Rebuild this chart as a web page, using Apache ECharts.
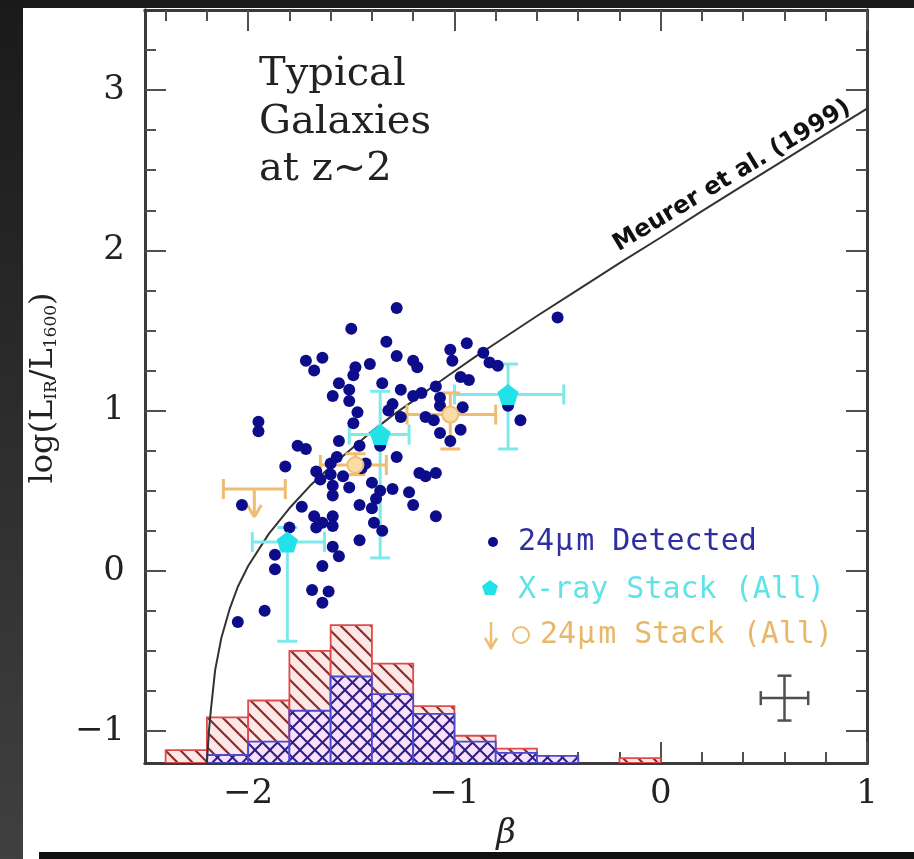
<!DOCTYPE html>
<html>
<head>
<meta charset="utf-8">
<script src="https://cdn.jsdelivr.net/npm/echarts@6/dist/echarts.min.js"></script>
<style>
  html, body { margin: 0; padding: 0; background: #1b1b1b; }
  #strip { position: absolute; left: 0; top: 0; width: 23px; height: 859px; background: linear-gradient(#1a1a1a, #404040); }
  #paper { position: absolute; left: 23px; top: 8px; width: 891px; height: 844px; background: #fff; }
  #sliver { position: absolute; left: 23px; top: 852px; width: 16px; height: 7px; background: #fff; }
  #chart { position: absolute; left: 0; top: 0; width: 914px; height: 859px; }
  #cut { position: absolute; left: 39px; top: 852px; width: 875px; height: 7px; background: #111; }
</style>
</head>
<body>
<div id="strip"></div>
<div id="paper"></div>
<div id="sliver"></div>
<div id="chart"></div>
<div id="cut"></div>
<script>
// 24um detected galaxies
const detBeta = [-1.28, -1.50, -1.33, -1.02, -0.94, -1.28, -1.72, -1.64, -1.68, -1.41,
  -1.48, -1.49, -1.20, -1.18, -1.01, -0.97, -0.93, -0.86, -0.83, -0.79,
  -0.50, -1.56, -1.35, -1.51, -1.59, -1.51, -1.26, -1.20, -1.16, -1.09,
  -1.07, -1.07, -1.30, -1.32, -1.47, -1.49, -1.26, -1.14, -1.10, -0.96,
  -0.74, -0.68, -1.07, -0.97, -1.02, -1.95, -1.95, -1.76, -1.72, -1.56,
  -1.46, -1.36, -1.28, -1.82, -1.57, -1.60, -1.45, -1.43, -1.67, -1.65,
  -1.60, -1.54, -1.59, -1.59, -1.51, -1.17, -1.14, -1.09, -1.40, -1.36,
  -1.30, -1.46, -1.40, -1.38, -1.22, -1.20, -1.09, -2.03, -1.74, -1.68,
  -1.64, -1.59, -1.67, -1.59, -1.80, -1.39, -1.35, -1.46, -1.59, -1.56,
  -1.87, -1.87, -1.64, -1.69, -1.61, -1.64, -1.92, -2.05];
const detIrx = [1.64, 1.51, 1.43, 1.38, 1.42, 1.34, 1.31, 1.33, 1.25, 1.29,
  1.27, 1.22, 1.31, 1.27, 1.31, 1.21, 1.19, 1.36, 1.30, 1.28,
  1.58, 1.17, 1.17, 1.13, 1.09, 1.06, 1.13, 1.09, 1.11, 1.15,
  1.08, 1.03, 1.04, 1.00, 0.99, 0.92, 0.96, 0.96, 0.94, 1.02,
  1.03, 0.94, 0.86, 0.88, 0.81, 0.93, 0.87, 0.78, 0.76, 0.81,
  0.78, 0.78, 0.71, 0.65, 0.71, 0.67, 0.64, 0.67, 0.62, 0.57,
  0.60, 0.59, 0.53, 0.47, 0.52, 0.61, 0.59, 0.61, 0.55, 0.50,
  0.51, 0.41, 0.39, 0.45, 0.49, 0.41, 0.34, 0.41, 0.40, 0.34,
  0.30, 0.34, 0.27, 0.28, 0.27, 0.30, 0.25, 0.19, 0.15, 0.09,
  0.10, 0.01, 0.03, -0.12, -0.13, -0.20, -0.25, -0.32];

// X-ray stacks
const xrayBeta = [-1.81, -1.36, -0.74];
const xrayIrx = [0.18, 0.85, 1.10];
const xrayBetaLo = [-1.98, -1.51, -1.00];
const xrayBetaHi = [-1.63, -1.22, -0.47];
const xrayIrxLo = [-0.44, 0.08, 0.76];
const xrayIrxHi = [0.27, 1.12, 1.29];

// 24um stacks (detections)
const stackBeta = [-1.48, -1.02];
const stackIrx = [0.66, 0.975];
const stackBetaLo = [-1.65, -1.23];
const stackBetaHi = [-1.33, -0.80];
const stackIrxLo = [0.60, 0.76];
const stackIrxHi = [0.73, 1.11];

// 24um stack upper limit
const limitBeta = [-1.97];
const limitIrx = [0.51];
const limitBetaLo = [-2.12];
const limitBetaHi = [-1.82];

// typical error bar
const typBeta = [0.60];
const typIrx = [-0.795];
const typBetaLo = [0.485];
const typBetaHi = [0.715];
const typIrxLo = [-0.935];
const typIrxHi = [-0.655];

// Meurer et al. (1999) relation
const meurerBeta = [-2.20, -2.19, -2.18, -2.16, -2.13, -2.09, -2.05, -2.00, -1.90, -1.80,
  -1.70, -1.60, -1.50, -1.40, -1.30, -1.20, -1.10, -1.00, -0.90, -0.80,
  -0.60, -0.40, -0.20, 0.00, 0.20, 0.40, 0.60, 0.80, 1.00];
const meurerIrx = [-1.20, -1.00, -0.86, -0.62, -0.42, -0.24, -0.10, 0.03, 0.23, 0.39,
  0.53, 0.65, 0.76, 0.87, 0.97, 1.06, 1.155, 1.245, 1.335, 1.42,
  1.59, 1.755, 1.92, 2.08, 2.245, 2.405, 2.565, 2.725, 2.885];

// histograms (bin edges, top of each bar in axis units)
const binLo = [-2.4, -2.2, -2.0, -1.8, -1.6, -1.4, -1.2, -1.0, -0.8, -0.6, -0.4, -0.2];
const binHi = [-2.2, -2.0, -1.8, -1.6, -1.4, -1.2, -1.0, -0.8, -0.6, -0.4, -0.2, 0.0];
const histAllTop = [-1.12, -0.915, -0.81, -0.50, -0.34, -0.58, -0.845, -1.03, -1.11, -1.155, null, -1.17];
const histDetTop = [null, -1.15, -1.067, -0.874, -0.66, -0.77, -0.894, -1.067, -1.137, -1.155, null, null];

// ticks
const xMajor = [-2, -1, 0, 1];
const xMinor = [-2.4, -2.2, -1.8, -1.6, -1.4, -1.2, -0.8, -0.6, -0.4, -0.2, 0.2, 0.4, 0.6, 0.8];
const yMajor = [-1, 0, 1, 2, 3];
const yMinor = [-0.75, -0.5, -0.25, 0.25, 0.5, 0.75, 1.25, 1.5, 1.75, 2.25, 2.5, 2.75, 3.25];

const X_MIN = -2.5, X_MAX = 1, Y_MIN = -1.2, Y_MAX = 3.5;

function hatch(bg, fg, cross, w) {
  const s = 15;
  const c = document.createElement('canvas');
  c.width = c.height = s;
  const g = c.getContext('2d');
  g.fillStyle = bg;
  g.fillRect(0, 0, s, s);
  g.strokeStyle = fg;
  g.lineWidth = w;
  const seg = (a, b, d, e) => { g.beginPath(); g.moveTo(a, b); g.lineTo(d, e); g.stroke(); };
  seg(-1, -1, s + 1, s + 1); seg(-1, s - 1, 1, s + 1); seg(s - 1, -1, s + 1, 1);
  if (cross) { seg(-1, s + 1, s + 1, -1); seg(-1, 1, 1, -1); seg(s - 1, s + 1, s + 1, s - 1); }
  return c;
}
const redFill = { image: hatch('#fde8e8', '#8c2c2c', false, 2.2), repeat: 'repeat' };
const blueFill = { image: hatch('#fae0fa', '#2c1f82', true, 2), repeat: 'repeat' };

const minus = v => String(v).replace('-', '\u2212');
const tickFont = { fontFamily: 'DejaVu Serif', fontSize: 34, color: '#222' };

function xAx(pos, vals, len, labels) {
  return {
    type: 'value', position: pos, min: X_MIN, max: X_MAX,
    axisLine: { show: true, onZero: false, lineStyle: { color: '#3a3a3a', width: 3 } },
    axisTick: { show: true, inside: true, length: len, customValues: vals, lineStyle: { color: '#505050', width: 2 } },
    axisLabel: labels ? Object.assign({ customValues: vals, margin: 14, formatter: minus }, tickFont) : { show: false },
    splitLine: { show: false }
  };
}
function yAx(pos, vals, len, labels) {
  return {
    type: 'value', position: pos, min: Y_MIN, max: Y_MAX,
    axisLine: { show: true, onZero: false, lineStyle: { color: '#3a3a3a', width: 3 } },
    axisTick: { show: true, inside: true, length: len, customValues: vals, lineStyle: { color: '#505050', width: 2 } },
    axisLabel: labels ? Object.assign({ customValues: vals, margin: 20, formatter: minus }, tickFont) : { show: false },
    splitLine: { show: false }
  };
}

function histSeries(tops, fill, stroke, z) {
  const data = [];
  binLo.forEach((lo, i) => { if (tops[i] != null) data.push([lo, binHi[i], tops[i]]); });
  return {
    type: 'custom', z: z, clip: true, data: data,
    renderItem: (params, api) => {
      const p0 = api.coord([api.value(0), api.value(2)]);
      const p1 = api.coord([api.value(1), Y_MIN]);
      return {
        type: 'rect',
        shape: { x: p0[0], y: p0[1], width: p1[0] - p0[0], height: p1[1] - p0[1] },
        style: { fill: fill, stroke: stroke, lineWidth: 1.8 }
      };
    }
  };
}

function ln(a, b, style) {
  return { type: 'line', shape: { x1: a[0], y1: a[1], x2: b[0], y2: b[1] }, style: style };
}

function errSeries(rows, color, width, cap, z) {
  return {
    type: 'custom', z: z, clip: true, data: rows,
    renderItem: (params, api) => {
      const b = api.value(0), v = api.value(1);
      const L = api.coord([api.value(2), v]), R = api.coord([api.value(3), v]);
      const B = api.coord([b, api.value(4)]), T = api.coord([b, api.value(5)]);
      const st = { stroke: color, lineWidth: width };
      return { type: 'group', children: [
        ln(L, R, st), ln(B, T, st),
        ln([L[0], L[1] - cap], [L[0], L[1] + cap], st),
        ln([R[0], R[1] - cap], [R[0], R[1] + cap], st),
        ln([B[0] - cap, B[1]], [B[0] + cap, B[1]], st),
        ln([T[0] - cap, T[1]], [T[0] + cap, T[1]], st)
      ] };
    }
  };
}

const zip = (...cols) => cols[0].map((_, i) => cols.map(c => c[i]));

const pentagon = 'path://M0,-10 L9.51,-3.09 L5.88,8.09 L-5.88,8.09 L-9.51,-3.09 Z';
const orange = '#f0bc70';
const cyan = '#7ee8ea';
const muRich = { mu: { fontFamily: 'DejaVu Sans Mono', fontSize: 30, padding: [0, 3, 0, 1] } };

const chart = echarts.init(document.getElementById('chart'));
chart.setOption({
  backgroundColor: 'transparent',
  animation: false,
  grid: { left: 145, top: 10, width: 722, height: 753 },
  xAxis: [
    xAx('bottom', xMajor, 21, true),
    xAx('bottom', xMinor, 11, false),
    xAx('top', xMajor, 21, false),
    xAx('top', xMinor, 11, false)
  ],
  yAxis: [
    yAx('left', yMajor, 21, true),
    yAx('left', yMinor, 11, false),
    yAx('right', yMajor, 21, false),
    yAx('right', yMinor, 11, false)
  ],
  series: [
    histSeries(histAllTop, redFill, '#e04a4a', 1),
    histSeries(histDetTop, blueFill, '#4a4ad0', 2),
    {
      type: 'line', z: 3, showSymbol: false, clip: true,
      data: zip(meurerBeta, meurerIrx),
      lineStyle: { color: '#333', width: 2 }
    },
    errSeries(zip(xrayBeta, xrayIrx, xrayBetaLo, xrayBetaHi, xrayIrxLo, xrayIrxHi), cyan, 3, 10, 4),
    errSeries(zip(stackBeta, stackIrx, stackBetaLo, stackBetaHi, stackIrxLo, stackIrxHi), orange, 3, 10, 4),
    errSeries(zip(typBeta, typIrx, typBetaLo, typBetaHi, typIrxLo, typIrxHi), '#505050', 2.5, 7, 4),
    {
      type: 'custom', z: 4, clip: true,
      data: zip(limitBeta, limitIrx, limitBetaLo, limitBetaHi),
      renderItem: (params, api) => {
        const v = api.value(1);
        const C = api.coord([api.value(0), v]);
        const L = api.coord([api.value(2), v]), R = api.coord([api.value(3), v]);
        const st = { stroke: orange, lineWidth: 3 };
        const tip = [C[0], C[1] + 28];
        return { type: 'group', children: [
          ln(L, R, st),
          ln([L[0], L[1] - 10], [L[0], L[1] + 10], st),
          ln([R[0], R[1] - 10], [R[0], R[1] + 10], st),
          ln(C, tip, st),
          ln([tip[0] - 7, tip[1] - 12], tip, st),
          ln([tip[0] + 7, tip[1] - 12], tip, st)
        ] };
      }
    },
    {
      type: 'scatter', z: 5, symbol: 'circle', symbolSize: 12,
      data: zip(detBeta, detIrx),
      itemStyle: { color: '#0d0d8c', opacity: 1 }
    },
    {
      type: 'scatter', z: 6, symbol: pentagon, symbolSize: 21,
      data: zip(xrayBeta, xrayIrx),
      itemStyle: { color: '#22e2e8', opacity: 1 }
    },
    {
      type: 'scatter', z: 6, symbol: 'circle', symbolSize: 16,
      data: zip(stackBeta, stackIrx),
      itemStyle: { color: '#f9dca8', borderColor: orange, borderWidth: 2, opacity: 1 }
    }
  ],
  graphic: [
    { type: 'text', x: 259, y: 75, style: { text: 'Typical', fontFamily: 'DejaVu Serif', fontSize: 40, fill: '#222', align: 'left', verticalAlign: 'middle' } },
    { type: 'text', x: 259, y: 123, style: { text: 'Galaxies', fontFamily: 'DejaVu Serif', fontSize: 40, fill: '#222', align: 'left', verticalAlign: 'middle' } },
    { type: 'text', x: 259, y: 170, style: { text: 'at z~2', fontFamily: 'DejaVu Serif', fontSize: 40, fill: '#222', align: 'left', verticalAlign: 'middle' } },
    { type: 'text', x: 732, y: 176, rotation: 31 * Math.PI / 180,
      style: { text: 'Meurer et al. (1999)', fontFamily: 'DejaVu Sans', fontWeight: 'bold', fontSize: 24, fill: '#111', align: 'center', verticalAlign: 'middle' } },
    { type: 'text', x: 44, y: 388, rotation: Math.PI / 2,
      style: {
        text: 'log(L{s|IR}/L{s|1600})', fontFamily: 'DejaVu Serif', fontSize: 32, fill: '#222',
        align: 'center', verticalAlign: 'middle',
        rich: { s: { fontFamily: 'DejaVu Serif', fontSize: 17, fill: '#222', verticalAlign: 'bottom', padding: [14, 0, 0, 0] } }
      } },
    { type: 'text', x: 506, y: 834, style: { text: '\u03b2', fontFamily: 'DejaVu Serif', fontStyle: 'italic', fontSize: 34, fill: '#222', align: 'center', verticalAlign: 'middle' } },
    { type: 'circle', shape: { cx: 493, cy: 542, r: 5 }, style: { fill: '#0d0d8c' } },
    { type: 'text', x: 518, y: 542, style: { text: '24{mu|\u03bc}m Detected', rich: muRich, fontFamily: 'DejaVu Sans Mono', fontSize: 30, fill: '#2f2fa0', align: 'left', verticalAlign: 'middle' } },
    { type: 'polygon', shape: { points: [[490, 580], [498, 586], [495, 595], [485, 595], [482, 586]] }, style: { fill: '#22e2e8' } },
    { type: 'text', x: 518, y: 590, style: { text: 'X-ray Stack (All)', fontFamily: 'DejaVu Sans Mono', fontSize: 30, fill: '#5fe3e6', align: 'left', verticalAlign: 'middle' } },
    { type: 'polyline', shape: { points: [[491, 622], [491, 648]] }, style: { stroke: orange, lineWidth: 2.5 } },
    { type: 'polyline', shape: { points: [[485, 638], [491, 648], [497, 638]] }, style: { stroke: orange, lineWidth: 2.5, fill: null } },
    { type: 'circle', shape: { cx: 521, cy: 635, r: 8 }, style: { fill: 'none', stroke: orange, lineWidth: 2 } },
    { type: 'text', x: 540, y: 635, style: { text: '24{mu|\u03bc}m Stack (All)', rich: muRich, fontFamily: 'DejaVu Sans Mono', fontSize: 30, fill: '#e8b868', align: 'left', verticalAlign: 'middle' } }
  ]
});
</script>
</body>
</html>
